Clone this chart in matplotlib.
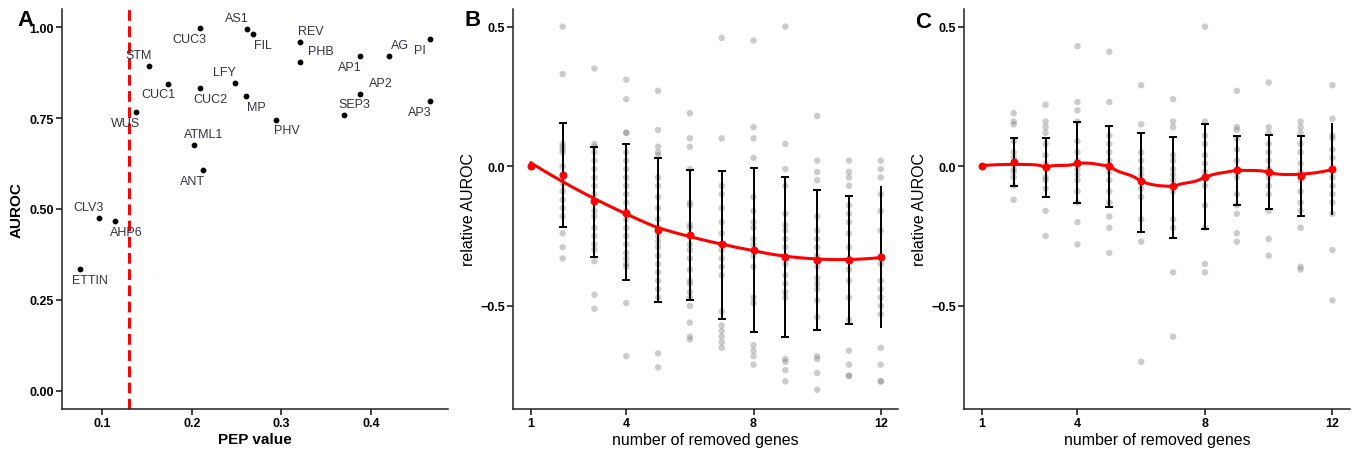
import numpy as np
import matplotlib
matplotlib.use("Agg")
import matplotlib.pyplot as plt

plt.rcParams['font.family'] = ['Liberation Sans', 'DejaVu Sans']

# ---- panel A: PEP value vs AUROC per gene
genes = ['CUC3', 'AS1', 'FIL', 'REV', 'PHB', 'AP1', 'AG', 'PI', 'STM', 'CUC1',
         'CUC2', 'LFY', 'MP', 'AP2', 'SEP3', 'AP3', 'WUS', 'PHV', 'ATML1', 'ANT',
         'CLV3', 'AHP6', 'ETTIN']
pep = [0.209, 0.262, 0.268, 0.321, 0.321, 0.388, 0.420, 0.466, 0.152, 0.174,
       0.209, 0.248, 0.260, 0.388, 0.370, 0.466, 0.138, 0.294, 0.202, 0.212,
       0.097, 0.115, 0.075]
auroc = [0.998, 0.996, 0.982, 0.959, 0.905, 0.921, 0.922, 0.968, 0.893, 0.845,
         0.833, 0.847, 0.811, 0.817, 0.758, 0.797, 0.766, 0.746, 0.676, 0.607,
         0.476, 0.467, 0.334]
pep_cutoff = 0.13

# label side: (horizontal, vertical) sign, -1 = left/below
label_side = [(-1, -1), (-1, 1), (1, -1), (1, 1), (2, 1), (-1, -1), (1, 1), (-1, -1),
              (-1, 1), (-1, -1), (1, -1), (-1, 1), (1, -1), (2, 1), (1, 1), (-1, -1),
              (-1, -1), (1, -1), (1, 1), (-1, -1), (-1, 1), (1, -1), (1, -1)]

# ---- panels B and C: relative AUROC after removing genes
n_removed = list(range(1, 13))

b_mean = [0.0, -0.030, -0.125, -0.167, -0.227, -0.247, -0.280, -0.298, -0.325, -0.337, -0.334, -0.325]
b_upper = [0.155, 0.068, 0.078, 0.028, -0.013, -0.018, -0.006, -0.039, -0.086, -0.105, -0.072]
b_lower = [-0.217, -0.324, -0.408, -0.486, -0.480, -0.546, -0.594, -0.610, -0.585, -0.565, -0.579]
b_points = [
    [0.50, 0.33, 0.08, 0.07, 0.06, 0.05, 0.0, -0.03, -0.06, -0.09, -0.12, -0.15, -0.18, -0.24, -0.29, -0.33],
    [0.35, 0.08, 0.07, 0.05, 0.02, -0.01, -0.04, -0.07, -0.10, -0.13, -0.16, -0.18, -0.22, -0.25, -0.28, -0.30, -0.34, -0.46, -0.51],
    [0.31, 0.24, 0.12, 0.12, 0.05, 0.02, -0.01, -0.04, -0.07, -0.10, -0.13, -0.16, -0.19, -0.22, -0.25, -0.28, -0.31, -0.33, -0.35, -0.36, -0.49, -0.68],
    [0.27, 0.13, 0.07, 0.05, 0.04, -0.04, -0.07, -0.11, -0.15, -0.19, -0.22, -0.25, -0.27, -0.29, -0.32, -0.35, -0.38, -0.41, -0.44, -0.47, -0.67, -0.72],
    [0.19, 0.10, 0.07, -0.01, -0.13, -0.14, -0.21, -0.22, -0.25, -0.28, -0.30, -0.33, -0.37, -0.41, -0.42, -0.45, -0.47, -0.50, -0.56, -0.61, -0.62],
    [0.46, 0.10, -0.07, -0.10, -0.15, -0.20, -0.24, -0.28, -0.30, -0.33, -0.36, -0.39, -0.52, -0.57, -0.59, -0.61, -0.63, -0.65],
    [0.45, 0.14, 0.10, 0.03, -0.11, -0.16, -0.20, -0.22, -0.26, -0.28, -0.32, -0.36, -0.47, -0.49, -0.64, -0.66, -0.68, -0.71],
    [0.50, 0.08, -0.01, -0.07, -0.17, -0.21, -0.23, -0.26, -0.29, -0.32, -0.35, -0.39, -0.42, -0.45, -0.47, -0.69, -0.70, -0.73, -0.77],
    [0.18, 0.02, -0.02, -0.05, -0.18, -0.23, -0.26, -0.29, -0.32, -0.34, -0.36, -0.40, -0.42, -0.44, -0.48, -0.54, -0.68, -0.69, -0.74, -0.80],
    [0.02, -0.02, -0.04, -0.07, -0.14, -0.17, -0.20, -0.24, -0.29, -0.33, -0.37, -0.41, -0.47, -0.55, -0.66, -0.71, -0.75, -0.75],
    [0.02, -0.01, -0.04, -0.10, -0.16, -0.23, -0.32, -0.35, -0.41, -0.44, -0.47, -0.50, -0.53, -0.65, -0.71, -0.77, -0.77],
]

c_mean = [0.0, 0.015, -0.003, 0.010, 0.0, -0.054, -0.072, -0.039, -0.014, -0.021, -0.034, -0.010]
c_upper = [0.102, 0.102, 0.159, 0.143, 0.120, 0.105, 0.150, 0.108, 0.111, 0.108, 0.155]
c_lower = [-0.071, -0.111, -0.131, -0.147, -0.235, -0.257, -0.223, -0.137, -0.153, -0.179, -0.173]
c_points = [
    [0.19, 0.16, 0.15, 0.09, 0.05, 0.03, 0.01, -0.01, -0.02, -0.04, -0.07, -0.12],
    [0.22, 0.16, 0.14, 0.12, 0.08, 0.04, 0.01, -0.01, -0.04, -0.05, -0.08, -0.16, -0.25],
    [0.43, 0.23, 0.20, 0.16, 0.09, 0.05, 0.02, -0.01, -0.03, -0.05, -0.09, -0.13, -0.20, -0.28],
    [0.41, 0.23, 0.11, 0.08, 0.05, 0.02, -0.02, -0.05, -0.09, -0.13, -0.18, -0.22, -0.31],
    [0.29, 0.15, 0.05, 0.02, -0.01, -0.03, -0.05, -0.08, -0.11, -0.19, -0.27, -0.70],
    [0.24, 0.16, 0.14, 0.04, 0.02, -0.01, -0.03, -0.05, -0.09, -0.19, -0.22, -0.38, -0.61],
    [0.50, 0.16, 0.11, 0.08, 0.04, 0.01, -0.02, -0.04, -0.07, -0.14, -0.22, -0.35, -0.38],
    [0.27, 0.14, 0.13, 0.10, 0.06, 0.02, -0.01, -0.04, -0.10, -0.14, -0.17, -0.24, -0.27],
    [0.30, 0.14, 0.12, 0.08, 0.05, 0.02, -0.01, -0.04, -0.07, -0.10, -0.16, -0.26, -0.32],
    [0.16, 0.14, 0.12, 0.08, 0.05, 0.01, -0.02, -0.05, -0.09, -0.13, -0.16, -0.22, -0.36, -0.37],
    [0.29, 0.17, 0.11, 0.10, 0.06, 0.03, -0.01, -0.04, -0.07, -0.10, -0.13, -0.17, -0.30, -0.48],
]


def loess(x, y, span, xs):
    # local quadratic fit with tricube weights, like R's loess
    x = np.asarray(x, float)
    y = np.asarray(y, float)
    q = int(np.ceil(span * len(x)))
    out = []
    for x0 in xs:
        d = np.abs(x - x0)
        h = np.sort(d)[q - 1] * 1.0001
        w = np.clip(1 - (d / h) ** 3, 0, None) ** 3
        keep = w > 0
        deg = min(2, keep.sum() - 1)
        coef = np.polyfit(x[keep], y[keep], deg, w=np.sqrt(w[keep]))
        out.append(np.polyval(coef, x0))
    return np.array(out)


def style_axes(ax):
    for s in ['top', 'right']:
        ax.spines[s].set_visible(False)
    for s in ['left', 'bottom']:
        ax.spines[s].set_color('#222222')
        ax.spines[s].set_linewidth(1.1)
    ax.tick_params(direction='out', length=4, width=1.3, color='#333333',
                   labelsize=9, pad=2)
    for t in ax.get_xticklabels() + ax.get_yticklabels():
        t.set_fontweight('bold')


fig = plt.figure(figsize=(13.56, 4.52), dpi=100)

# ---- A
axA = fig.add_axes([62 / 1356, 42 / 452, 386 / 1356, 400 / 452])
axA.scatter(pep, auroc, s=10, color='black', zorder=3)
axA.axvline(pep_cutoff, color='red', lw=2.2, ls=(0, (3.5, 1.8)), zorder=2)
for g, px, py, (sx, sy) in zip(genes, pep, auroc, label_side):
    axA.annotate(g, (px, py), xytext=(7.5 * sx, 7.8 * sy), textcoords='offset points',
                 ha='center', va='center', fontsize=9, color='#333340')
axA.set_xlim(0.0554, 0.4856)
axA.set_ylim(-0.05, 1.05)
axA.set_xticks([0.1, 0.2, 0.3, 0.4])
axA.set_yticks([0.0, 0.25, 0.5, 0.75, 1.0])
axA.set_yticklabels(['0.00', '0.25', '0.50', '0.75', '1.00'])
axA.set_xlabel('PEP value', fontsize=11, fontweight='bold')
axA.set_ylabel('AUROC', fontsize=11, fontweight='bold')
axA.xaxis.set_label_coords(0.5, -0.058)
axA.yaxis.set_label_coords(-0.099, 0.5)
style_axes(axA)


def removal_panel(ax, means, upper, lower, points, span):
    xs_cols = n_removed[1:]
    for xv, pts in zip(xs_cols, points):
        ax.scatter([xv] * len(pts), pts, s=22, color='#808080', alpha=0.4,
                   edgecolors='none', zorder=1)
    yerr = [np.array(means[1:]) - np.array(lower), np.array(upper) - np.array(means[1:])]
    ax.errorbar(xs_cols[:-1], means[1:-1], yerr=[yerr[0][:-1], yerr[1][:-1]], fmt='none',
                ecolor='black', elinewidth=1.4, capsize=3.2, capthick=1.4, zorder=2)
    ax.errorbar(xs_cols[-1:], means[-1:], yerr=[yerr[0][-1:], yerr[1][-1:]], fmt='none',
                ecolor='black', elinewidth=1.4, capsize=0, zorder=2)
    grid = np.linspace(1, 12, 120)
    ax.plot(grid, loess(n_removed, means, span, grid), color='red', lw=2.2, zorder=3)
    ax.scatter(n_removed, means, s=22, color='red', zorder=4)
    ax.set_xlim(0.45, 12.55)
    ax.set_ylim(-0.869, 0.563)
    ax.set_xticks([1, 4, 8, 12])
    ax.set_yticks([-0.5, 0.0, 0.5])
    ax.set_yticklabels(['\u22120.5', '0.0', '0.5'])
    ax.set_xlabel('number of removed genes', fontsize=11.5)
    ax.set_ylabel('relative AUROC', fontsize=11.5)
    ax.xaxis.set_label_coords(0.5, -0.058)
    ax.yaxis.set_label_coords(-0.097, 0.5)
    style_axes(ax)


axB = fig.add_axes([513.3 / 1356, 42 / 452, 385 / 1356, 400 / 452])
removal_panel(axB, b_mean, b_upper, b_lower, b_points, 0.75)

axC = fig.add_axes([964.3 / 1356, 42 / 452, 385.7 / 1356, 400 / 452])
removal_panel(axC, c_mean, c_upper, c_lower, c_points, 0.4)

for letter, x, y in [('A', 25, 20), ('B', 473, 21), ('C', 923, 22)]:
    fig.text(x / 1356, 1 - y / 452, letter, fontsize=16, fontweight='bold',
             ha='center', va='center')

fig.savefig('out.png', dpi=100)
